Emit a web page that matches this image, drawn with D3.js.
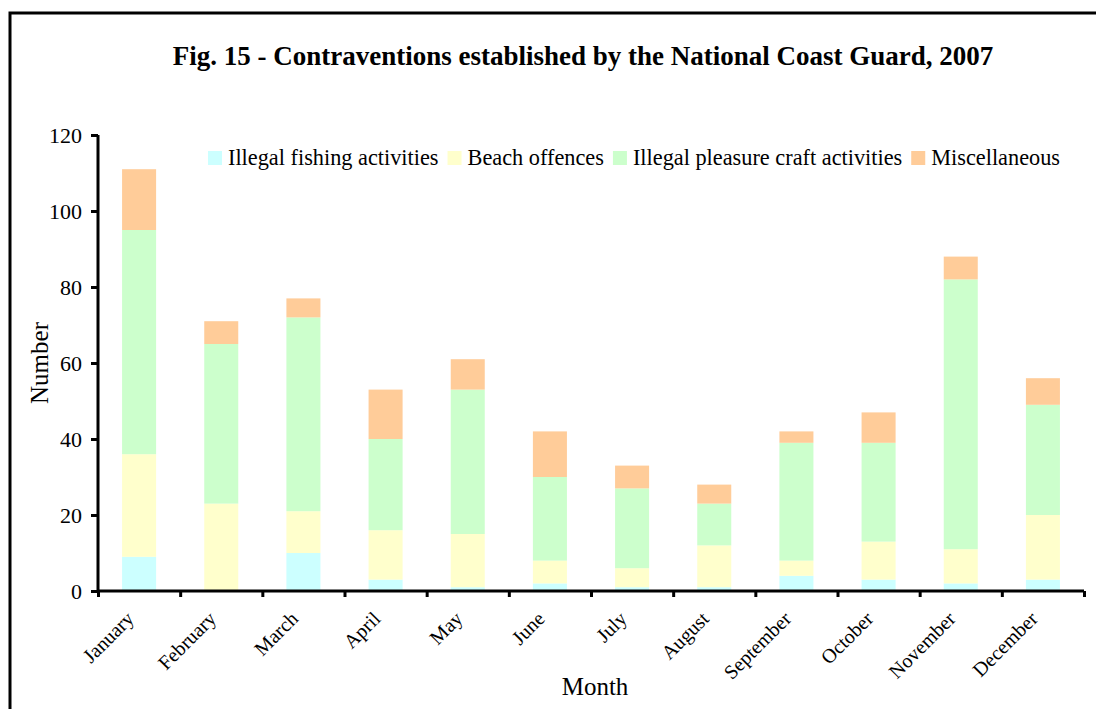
<!DOCTYPE html>
<html>
<head>
<meta charset="utf-8">
<script src="https://cdn.jsdelivr.net/npm/d3@7/dist/d3.min.js"></script>
<style>
  html, body { margin: 0; padding: 0; background: #fff; }
  svg { display: block; }
  text { font-family: "Liberation Serif", "Times New Roman", serif; fill: #000; }
</style>
</head>
<body>
<svg id="chart" width="1096" height="709"></svg>
<script>
const months = ["January","February","March","April","May","June","July","August","September","October","November","December"];
const seriesNames = ["Illegal fishing activities","Beach offences","Illegal pleasure craft activities","Miscellaneous"];
const fishing  = [9, 0, 10, 3, 1, 2, 1, 1, 4, 3, 2, 3];
const beach    = [27, 23, 11, 13, 14, 6, 5, 11, 4, 10, 9, 17];
const pleasure = [59, 42, 51, 24, 38, 22, 21, 11, 31, 26, 71, 29];
const misc     = [16, 6, 5, 13, 8, 12, 6, 5, 3, 8, 6, 7];
const yTicks = [0, 20, 40, 60, 80, 100, 120];
const colors = ["#CCFFFF", "#FFFFCC", "#CCFFCC", "#FFCC99"];

const FONT = "Liberation Serif";
const svg = d3.select("#chart");

// frame
svg.append("rect").attr("x", 10).attr("y", 13).attr("width", 1200).attr("height", 800)
  .attr("fill", "none").attr("stroke", "#000").attr("stroke-width", 3);

// title
svg.append("text").attr("x", 583).attr("y", 65).attr("text-anchor", "middle")
  .attr("font-family", FONT).attr("font-weight", "bold").attr("font-size", 27)
  .text("Fig. 15 - Contraventions established by the National Coast Guard, 2007");

const pLeft = 98, pRight = 1084, pTop = 135, pBottom = 591;
const x = d3.scaleBand().domain(months).range([pLeft, pRight]).padding(0);
const xIdx = d3.scaleLinear().domain([0, months.length]).range([pLeft, pRight]);
const y = d3.scaleLinear().domain([0, 120]).range([pBottom, pTop]);

const table = months.map((m, i) => ({month: m, s0: fishing[i], s1: beach[i], s2: pleasure[i], s3: misc[i]}));
const stack = d3.stack().keys(["s0","s1","s2","s3"])(table);
const barW = x.bandwidth() * 0.414;

svg.append("g").selectAll("g").data(stack).join("g")
  .attr("fill", (d, i) => colors[i])
  .selectAll("rect").data(d => d).join("rect")
  .attr("x", d => x(d.data.month) + (x.bandwidth() - barW) / 2)
  .attr("width", barW)
  .attr("y", d => y(d[1]))
  .attr("height", d => y(d[0]) - y(d[1]));

// y axis
const yAxis = svg.append("g").attr("transform", `translate(${pLeft},0)`)
  .call(d3.axisLeft(y).tickValues(yTicks).tickSize(7).tickPadding(9));
yAxis.attr("font-family", FONT).attr("font-size", 22);
yAxis.select(".domain").attr("stroke-width", 3).attr("d", `M0,${pTop}V${pBottom}`);
yAxis.selectAll(".tick line").attr("stroke-width", 3);
yAxis.selectAll(".tick text").attr("font-family", FONT).attr("font-size", 22).attr("fill", "#000");

// x axis
const xAxis = svg.append("g").attr("transform", `translate(0,${pBottom})`)
  .call(d3.axisBottom(xIdx).tickValues(d3.range(0, months.length + 1)).tickSize(6).tickFormat(""));
xAxis.select(".domain").attr("stroke-width", 3).attr("d", `M${pLeft},0H${pRight}`);
xAxis.selectAll(".tick line").attr("stroke-width", 3);

svg.append("g").selectAll("text").data(months).join("text")
  .attr("transform", d => `translate(${x(d) + x.bandwidth() / 2 - 4},${pBottom + 29}) rotate(-45)`)
  .attr("text-anchor", "end").attr("font-family", FONT).attr("font-size", 20)
  .text(d => d);

// axis titles
svg.append("text").attr("transform", "translate(48,363) rotate(-90)").attr("text-anchor", "middle")
  .attr("font-family", FONT).attr("font-size", 25).text("Number");
svg.append("text").attr("x", 595).attr("y", 695).attr("text-anchor", "middle")
  .attr("font-family", FONT).attr("font-size", 25).text("Month");

// legend
const legend = svg.append("g");
let lx = 208;
seriesNames.forEach((name, i) => {
  legend.append("rect").attr("x", lx).attr("y", 151).attr("width", 14).attr("height", 14).attr("fill", colors[i]);
  const t = legend.append("text").attr("x", lx + 20).attr("y", 165)
    .attr("font-family", FONT).attr("font-size", 22.3).text(name);
  lx += 20 + t.node().getComputedTextLength() + 9;
});
</script>
</body>
</html>
